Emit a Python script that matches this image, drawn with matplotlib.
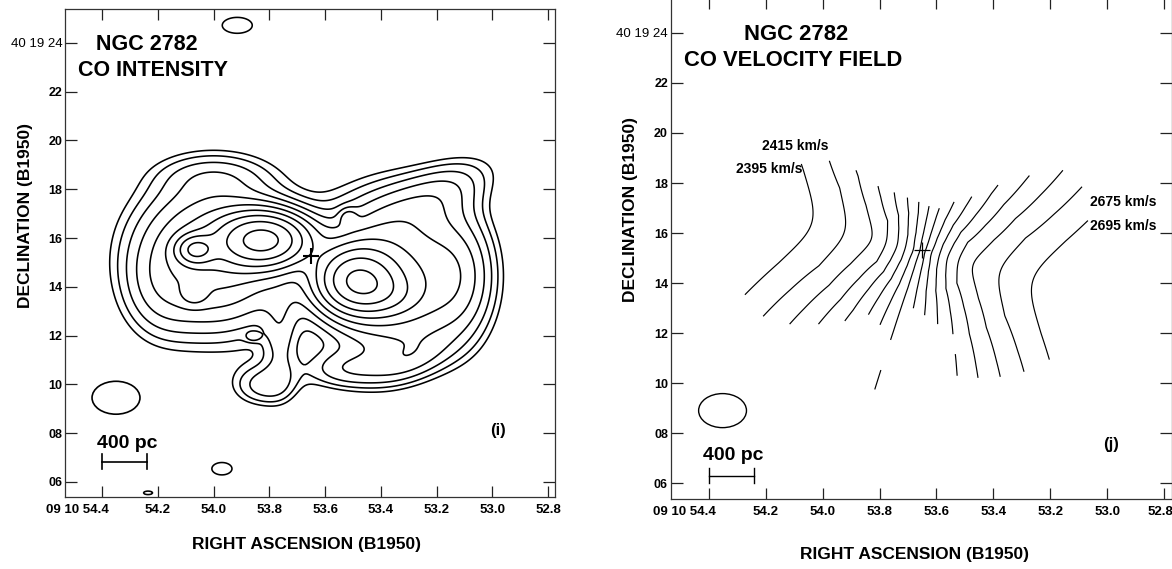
import numpy as np
import matplotlib
matplotlib.use("Agg")
import matplotlib.pyplot as plt
import matplotlib.transforms as mtransforms
from matplotlib.patches import Ellipse

plt.rcParams['font.family'] = ['Liberation Sans', 'DejaVu Sans']

# ---- sky frame: RA seconds past 09h10m, Dec arcsec past +40d19m (B1950) ----
ra_limits = (54.533, 52.775)
dec_limits = (5.38, 25.39)
ra_ticks = [54.4, 54.2, 54.0, 53.8, 53.6, 53.4, 53.2, 53.0, 52.8]
ra_ticklabels = ["09 10 54.4", "54.2", "54.0", "53.8", "53.6", "53.4",
                 "53.2", "53.0", "52.8"]
dec_ticks = [6, 8, 10, 12, 14, 16, 18, 20, 22, 24]
dec_ticklabels = ["06", "08", "10", "12", "14", "16", "18", "20", "22",
                  "40 19 24"]
ARCSEC_PER_RA_SEC = 11.44          # 15" * cos(dec)

nucleus_ra, nucleus_dec = 53.65, 15.25

# ---- CO integrated intensity: gaussian emission components ----
comp_ra  = [54.00, 53.82, 54.065, 54.07, 54.00, 54.20,
            53.36, 53.49, 53.42, 53.12, 53.20,
            53.82, 53.53, 53.76, 53.30,
            53.915, 53.97, 54.235, 53.517, 53.858]
comp_dec = [15.30, 15.92, 15.52, 13.70, 18.60, 13.80,
            14.50, 14.30, 13.85, 14.40, 17.80,
            9.95, 10.60, 11.80, 11.00,
            24.72, 6.54, 5.55, 16.85, 11.95]
comp_amp = [7.0, 22.0, 11.0, 2.5, 1.2, 1.2,
            8.0, 16.0, 5.0, 3.0, 2.2,
            2.2, 2.0, 1.6, 2.0,
            1.30, 1.30, 1.15, 2.0, 1.2]
comp_sx  = [2.1, 1.15, 0.5, 0.35, 1.6, 1.0,
            1.9, 1.0, 1.1, 1.0, 1.8,
            0.9, 1.2, 0.5, 1.2,
            0.85, 0.57, 0.35, 0.25, 0.22]
comp_sy  = [2.0, 0.7, 0.38, 0.30, 0.6, 1.4,
            2.0, 0.85, 0.6, 1.8, 0.8,
            0.6, 0.55, 1.4, 0.6,
            0.45, 0.35, 0.14, 0.25, 0.14]
comp_pa  = [0, 0, 0, 0, 0, 0,
            0, 0, -10, 0, 25,
            0, 0, 0, 20,
            0, 0, 0, 0, 0]
intensity_levels = [1.0, 1.41, 2.0, 2.83, 4.0, 5.66, 8.0, 11.3, 16.0, 22.6]

# ---- CO velocity field: rotating disk ----
v_sys = 2545.0
inclination = 40.0
major_axis_angle = -15.0           # receding side, from +x toward +y
rc_radius = [0.0, 0.15, 0.4, 0.7, 1.0, 1.45, 2.0, 3.1, 4.4, 6.0, 8.0, 12.0]
rc_vproj  = [0, 14, 32, 50, 68, 88, 108, 128, 148, 165, 185, 215]
velocity_levels = [2395, 2415, 2435, 2455, 2475, 2495, 2515, 2535, 2555,
                   2575, 2595, 2615, 2635, 2655, 2675, 2695]
velocity_cut = 2.4

# ---- grid ----
ra = np.linspace(52.70, 54.60, 460)
dec = np.linspace(5.0, 26.0, 500)
RA, DEC = np.meshgrid(ra, dec)

intensity = np.zeros_like(RA)
for r0, d0, a0, sx, sy, pa in zip(comp_ra, comp_dec, comp_amp, comp_sx,
                                  comp_sy, comp_pa):
    u = (r0 - RA) * ARCSEC_PER_RA_SEC
    v = DEC - d0
    t = np.deg2rad(pa)
    up = u * np.cos(t) + v * np.sin(t)
    vp = -u * np.sin(t) + v * np.cos(t)
    intensity += a0 * np.exp(-0.5 * ((up / sx) ** 2 + (vp / sy) ** 2))

X = (nucleus_ra - RA) * ARCSEC_PER_RA_SEC
Y = DEC - nucleus_dec
ang = np.deg2rad(major_axis_angle)
xd = X * np.cos(ang) + Y * np.sin(ang)
yd = (-X * np.sin(ang) + Y * np.cos(ang)) / np.cos(np.deg2rad(inclination))
R = np.hypot(xd, yd)
velocity = v_sys + np.interp(R, rc_radius, rc_vproj) * xd / np.maximum(R, 1e-6)
velocity = np.ma.masked_where(intensity < velocity_cut, velocity)

# ---- figure ----
W, H = 1172, 569
fig = plt.figure(figsize=(W / 100, H / 100), dpi=100)
ax1 = fig.add_axes([65 / W, 1 - 497 / H, 490 / W, 488 / H])
ax2 = fig.add_axes([670.7 / W, 1 - 499 / H, 500.8 / W, 501 / H])


def frame(ax):
    ax.set_xlim(*ra_limits)
    ax.set_ylim(*dec_limits)
    ax.set_xticks(ra_ticks)
    ax.set_xticklabels(ra_ticklabels)
    ax.set_yticks(dec_ticks)
    ax.set_yticklabels(dec_ticklabels)
    ax.tick_params(axis='x', direction='in', length=8, width=0.9,
                   top=True, bottom=True, labelsize=9.5, pad=5,
                   color='#222222')
    ax.tick_params(axis='y', direction='in', length=8.5, width=0.9,
                   left=True, right=True, labelsize=9, pad=2,
                   color='#222222')
    for lab in ax.get_xticklabels():
        lab.set_fontweight('bold')
    for lab in ax.get_yticklabels():
        lab.set_fontweight('bold')
    ax.get_yticklabels()[-1].set_fontweight('normal')
    ax.get_yticklabels()[-1].set_fontsize(9.5)
    # first RA label: the seconds part sits under its tick
    first = ax.get_xticklabels()[0]
    first.set_horizontalalignment('right')
    first.set_transform(first.get_transform() + mtransforms.ScaledTranslation(
        7 / 100, 0, fig.dpi_scale_trans))
    for sp in ax.spines.values():
        sp.set_linewidth(0.9)
        sp.set_color('#333333')


frame(ax1)
frame(ax2)
last = ax2.get_xticklabels()[-1]
last.set_transform(last.get_transform() + mtransforms.ScaledTranslation(
    -4 / 100, 0, fig.dpi_scale_trans))

# intensity map
ax1.contour(RA, DEC, intensity, levels=intensity_levels, colors='black',
            linewidths=1.15)
ax1.plot([nucleus_ra], [nucleus_dec], marker='+', color='black',
         markersize=11, markeredgewidth=1.5)

# velocity field
ax2.contour(RA, DEC, velocity, levels=velocity_levels, colors='black',
            linewidths=0.85)
ax2.plot([nucleus_ra], [nucleus_dec + 0.06], marker='+', color='black',
         markersize=12, markeredgewidth=0.9)

# beams
ax1.add_patch(Ellipse((54.350, 9.45), 0.172, 1.35, fill=False,
                      edgecolor='black', linewidth=1.2))
ax2.add_patch(Ellipse((54.351, 8.91), 0.168, 1.36, fill=False,
                      edgecolor='black', linewidth=1.0))

# 400 pc scale bars
for ax, yb, lw in ((ax1, 6.83, 1.2), (ax2, 6.31, 1.0)):
    ax.plot([54.40, 54.24], [yb, yb], color='black', linewidth=lw)
    for xe in (54.40, 54.24):
        ax.plot([xe, xe], [yb - 0.3, yb + 0.3], color='black', linewidth=lw)


def ftext(x, y, s, **kw):
    fig.text(x / W, 1 - y / H, s, **kw)


ftext(96, 45, "NGC 2782", fontsize=15.5, fontweight='bold', va='center')
ftext(78, 71, "CO INTENSITY", fontsize=15.5, fontweight='bold', va='center')
ftext(744, 35, "NGC 2782", fontsize=15.8, fontweight='bold', va='center')
ftext(684, 61, "CO VELOCITY FIELD", fontsize=15.8, fontweight='bold',
      va='center')
ftext(498, 431, "(i)", fontsize=12, fontweight='bold', ha='center',
      va='center')
ftext(1111, 445, "(j)", fontsize=12, fontweight='bold', ha='center',
      va='center')
ftext(127, 443, "400 pc", fontsize=14, fontweight='bold', ha='center',
      va='center')
ftext(733, 456, "400 pc", fontsize=14, fontweight='bold', ha='center',
      va='center')
ftext(26, 216, "DECLINATION (B1950)", fontsize=12.5, fontweight='bold',
      rotation=90, ha='center', va='center')
ftext(630, 210, "DECLINATION (B1950)", fontsize=12.5, fontweight='bold',
      rotation=90, ha='center', va='center')
ftext(306, 545, "RIGHT ASCENSION (B1950)", fontsize=12.5, fontweight='bold',
      ha='center', va='center')
ftext(915, 555, "RIGHT ASCENSION (B1950)", fontsize=12.5, fontweight='bold',
      ha='center', va='center')

ftext(762, 146, "2415 km/s", fontsize=10, fontweight='bold', va='center')
ftext(736, 169, "2395 km/s", fontsize=10, fontweight='bold', va='center')
ftext(1090, 202, "2675 km/s", fontsize=10, fontweight='bold', va='center')
ftext(1090, 226, "2695 km/s", fontsize=10, fontweight='bold', va='center')

fig.savefig("out.png", dpi=100)
